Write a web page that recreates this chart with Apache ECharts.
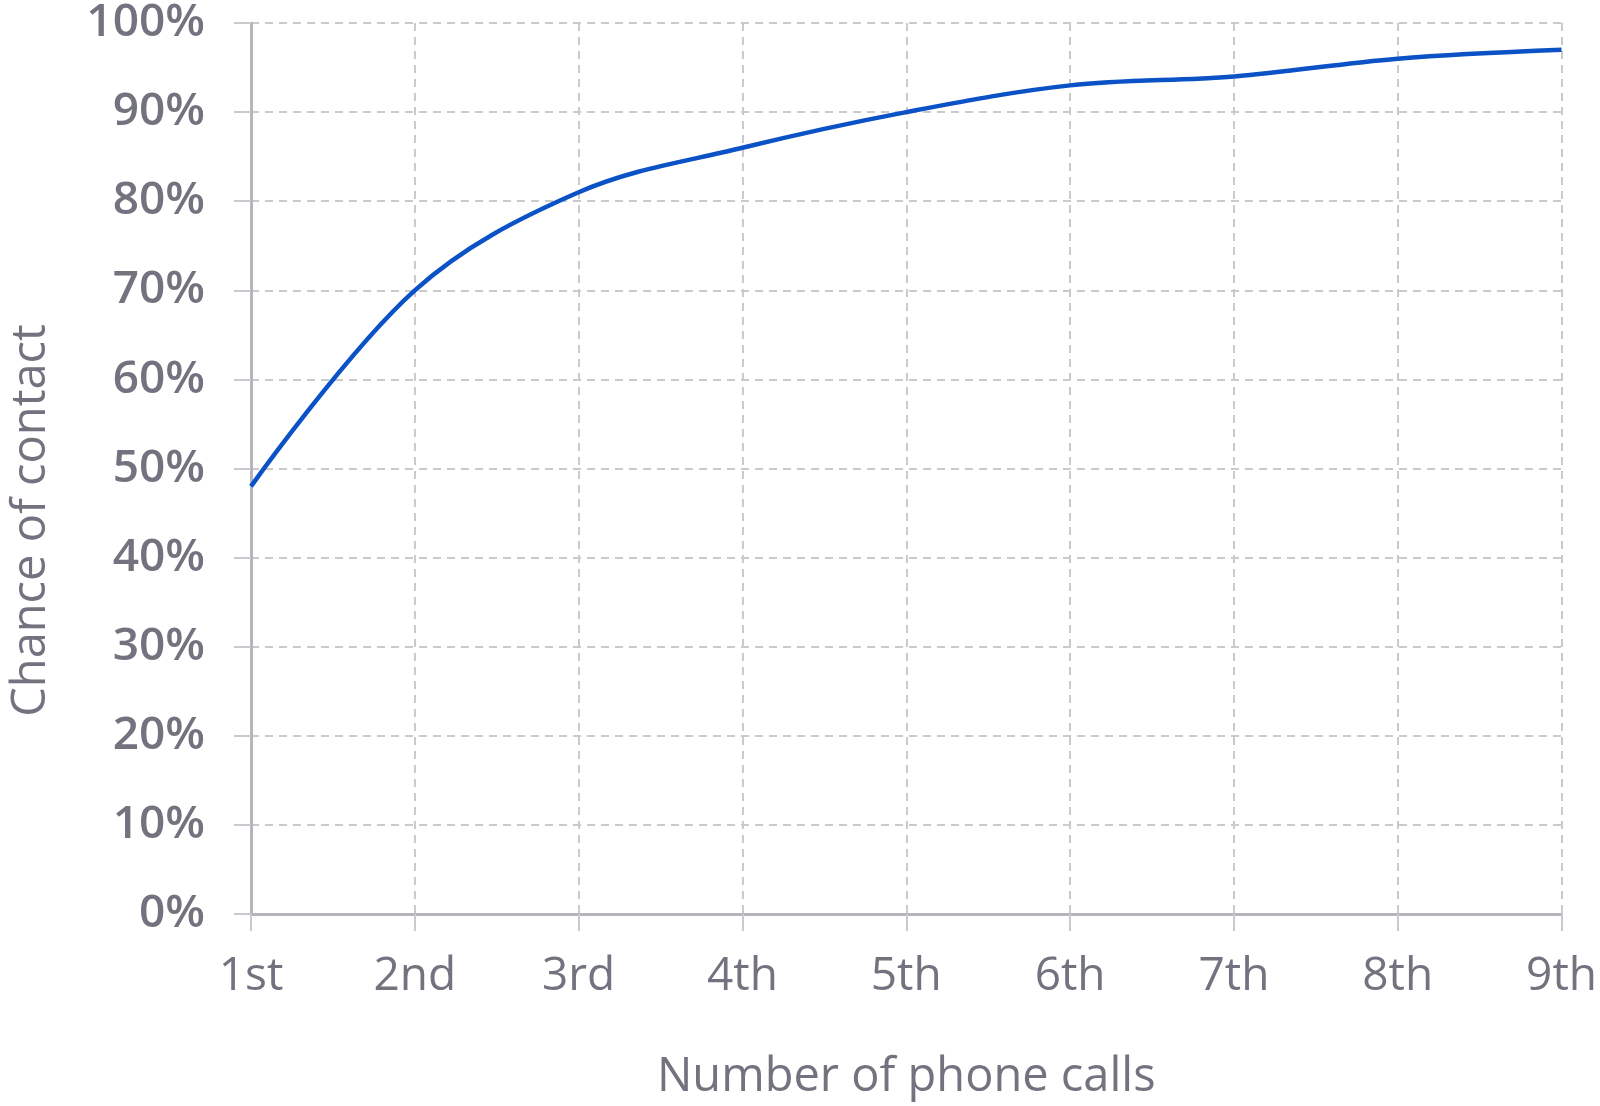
<html>
    <head>
        <meta charset="utf-8">
        <script src="https://cdn.jsdelivr.net/npm/echarts@6/dist/echarts.min.js"></script>
        <style>
            html, body { margin: 0; padding: 0; background: #fff; }
            #main { position: absolute; left: 0; top: 0; width: 1600px; height: 1106px; }
        </style>
    </head>
    <body>
        <div id="main"></div>
        <script>
            var calls = ['1st', '2nd', '3rd', '4th', '5th', '6th', '7th', '8th', '9th'];
            var contact = [48, 70, 81, 86, 90, 93, 94, 96, 97];

            var TEXT = '#72737f';
            var AXIS = '#b5b5bc';
            var GRID = '#c9c9ce';

            var chart = echarts.init(document.getElementById('main'), null, {renderer: 'canvas'});

            chart.setOption({
                animation: false,
                grid: {left: 243, right: 34, top: 19, bottom: 185},
                xAxis: {
                    type: 'category',
                    data: calls,
                    boundaryGap: false,
                    name: 'Number of phone calls',
                    nameLocation: 'middle',
                    nameGap: 140,
                    nameTextStyle: {fontFamily: 'Open Sans', fontSize: 47, color: TEXT},
                    axisLine: {lineStyle: {color: AXIS, width: 3}},
                    axisTick: {length: 17, lineStyle: {color: GRID, width: 2}},
                    axisLabel: {fontFamily: 'Open Sans', fontSize: 46, color: TEXT, margin: 40},
                    splitLine: {show: true, lineStyle: {color: GRID, width: 2, type: [8, 6]}}
                },
                yAxis: {
                    type: 'value',
                    min: 0,
                    max: 100,
                    interval: 10,
                    name: 'Chance of contact',
                    nameLocation: 'middle',
                    nameGap: 196,
                    nameTextStyle: {fontFamily: 'Open Sans', fontSize: 47, color: TEXT, padding: [0, 104, 0, 0]},
                    axisLine: {show: true, lineStyle: {color: AXIS, width: 3}},
                    axisTick: {show: true, length: 17, lineStyle: {color: GRID, width: 2}},
                    axisLabel: {
                        fontFamily: 'Open Sans', fontSize: 46, fontWeight: 600, color: TEXT, margin: 46,
                        formatter: '{value}%'
                    },
                    splitLine: {lineStyle: {color: GRID, width: 2, type: [8, 6]}}
                },
                series: [{
                    type: 'line',
                    data: contact,
                    smooth: 0.35,
                    showSymbol: false,
                    lineStyle: {color: '#0b52c6', width: 4.5}
                }]
            });
        </script>
    </body>
</html>
